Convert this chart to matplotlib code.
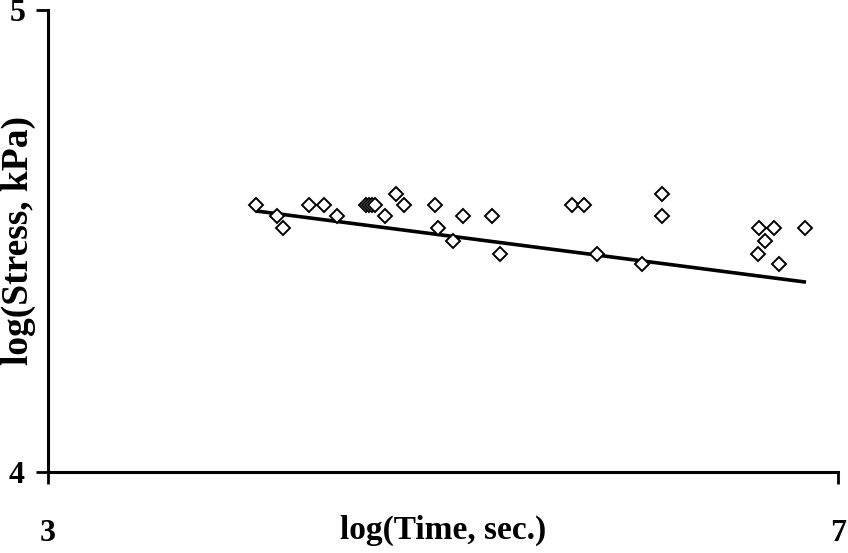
import matplotlib
matplotlib.use("Agg")
import matplotlib.pyplot as plt

# log(Time, sec.) and log(Stress, kPa)
log_time = [4.053, 4.159, 4.190, 4.322, 4.397, 4.463,
            4.610, 4.625, 4.641, 4.656, 4.706, 4.762, 4.803,
            4.959, 4.975, 5.051, 5.101, 5.248, 5.289,
            5.653, 5.714, 5.780, 6.008, 6.109, 6.109,
            6.600, 6.676, 6.630, 6.595, 6.701, 6.833]
log_stress = [4.578, 4.554, 4.528, 4.578, 4.578, 4.554,
              4.578, 4.578, 4.578, 4.578, 4.554, 4.602, 4.578,
              4.578, 4.528, 4.500, 4.554, 4.554, 4.472,
              4.578, 4.578, 4.472, 4.450, 4.602, 4.554,
              4.528, 4.528, 4.500, 4.472, 4.450, 4.528]

# trend line end points
fit_time = [4.053, 6.838]
fit_stress = [4.565, 4.411]

x_ticks = [3, 7]
y_ticks = [4, 5]

font = "Liberation Serif"

fig = plt.figure(figsize=(8.48, 5.53), dpi=100)
ax = fig.add_axes([0.0566, 0.1465, 0.9316, 0.8354])

ax.plot(fit_time, fit_stress, color="black", linewidth=2.6, solid_capstyle="butt", zorder=2)
ax.plot(log_time, log_stress, linestyle="none", marker="D", markersize=7.5,
        markerfacecolor="white", markeredgecolor="black", markeredgewidth=1.4, zorder=3)

ax.set_xlim(3, 7)
ax.set_ylim(4, 5)
ax.set_xticks(x_ticks)
ax.set_yticks(y_ticks)
ax.set_xticklabels([str(t) for t in x_ticks], fontfamily=font, fontweight="bold", fontsize=23)
ax.set_yticklabels([str(t) for t in y_ticks], fontfamily=font, fontweight="bold", fontsize=23)
ax.tick_params(axis="both", direction="out", length=8.5, width=2, color="black")
ax.tick_params(axis="x", pad=25)
ax.tick_params(axis="y", pad=8)

for side in ["top", "right"]:
    ax.spines[side].set_visible(False)
for side in ["left", "bottom"]:
    ax.spines[side].set_linewidth(2.2)

ax.set_xlabel("log(Time, sec.)", fontfamily=font, fontweight="bold", fontsize=24, va="center")
ax.xaxis.set_label_coords(0.5, -0.1255)
ax.set_ylabel("log(Stress, kPa)", fontfamily=font, fontweight="bold", fontsize=27, va="center")
ax.yaxis.set_label_coords(-0.0373, 0.502)

fig.savefig("out.png", dpi=100)
